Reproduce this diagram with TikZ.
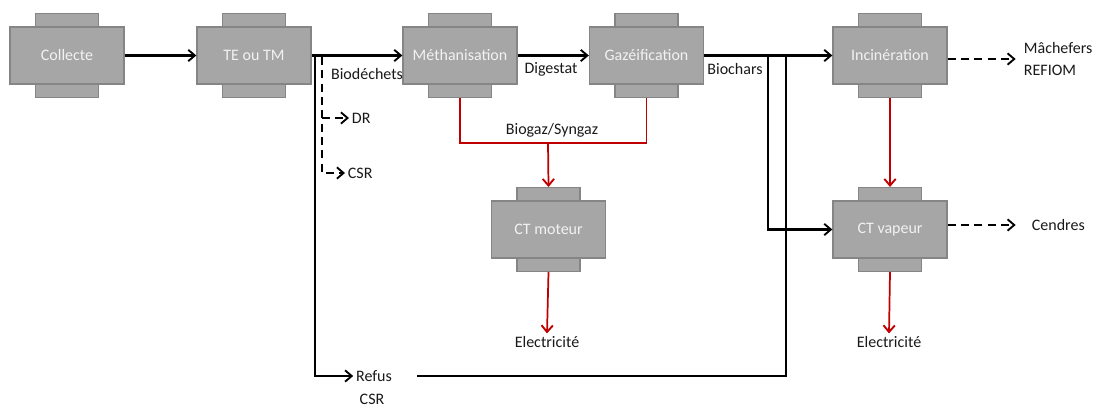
\documentclass[tikz,border=0pt]{standalone}
\usepackage{fontspec}
\setmainfont{Carlito}
\usepackage{xcolor}
\usepackage{tikz}
\usetikzlibrary{arrows.meta,positioning,backgrounds,calc}

\definecolor{boxfill}{HTML}{A6A6A6}
\definecolor{boxline}{HTML}{858585}
\definecolor{boxtext}{HTML}{F2F2F2}
\definecolor{gasred}{HTML}{C00000}

\begin{document}
\begin{tikzpicture}[
    x=0.75pt,y=-0.75pt,
    block/.style={draw=boxline,fill=boxfill,line width=1pt,minimum width=85.5pt,minimum height=42.75pt,inner sep=0pt,
        align=center,text=boxtext,font=\fontsize{12}{14}\selectfont},
    tab/.style={draw=boxline,fill=boxfill,line width=1pt,minimum width=47.25pt,minimum height=12pt,inner sep=0pt},
    lbl/.style={inner sep=2pt,font=\fontsize{12}{16.5}\selectfont,text=black!90},
    >={Straight Barb[length=5pt,width=8.5pt,line width=1.4pt]},
    line/.style={line width=1.6pt},
    flow/.style={line,->},
    dflow/.style={line,->,dash pattern=on 6pt off 4pt},
    rflow/.style={draw=gasred,line width=1.3pt,->},
]
    \useasboundingbox (0,0) rectangle (1094,410);

    % process units
    \node[block] (col) at (67,55.5) {Collecte};
    \node[block] (tri) at (254,55.5) {TE ou TM};
    \node[block] (meth) at (460,55.5) {Méthanisation};
    \node[block] (gaz) at (646.5,55.5) {Gazéification};
    \node[block] (inc) at (890,55.5) {Incinération};
    \node[block] (ctm) at (548.5,229.5) {CT moteur};
    \node[block] (ctv) at (890,229.5) {CT vapeur};

    \begin{scope}[on background layer]
        \foreach \n in {col,tri,meth,gaz,inc,ctm,ctv} {
            \node[tab,anchor=south] (\n-t) at ([yshift=-3pt]\n.north) {};
            \node[tab,anchor=north] (\n-b) at ([yshift=3pt]\n.south) {};
        }
    \end{scope}

    % labels and products
    \node[lbl] (biod) at (367,74) {Biodéchets};
    \node[lbl] (dig) at (551,69) {Digestat};
    \node[lbl] (bioc) at (735,69) {Biochars};
    \node[lbl,anchor=west] (dr) at (349,118) {DR};
    \node[lbl,anchor=west] (csr) at (345,173) {CSR};
    \node[lbl] (refus) at (374,376) {Refus};
    \node[lbl] (refcsr) at (372,399) {CSR};
    \node[lbl] (biogaz) at (552,130) {Biogaz/Syngaz};
    \node[lbl] (elec1) at (547,342) {Electricité};
    \node[lbl] (elec2) at (889,342) {Electricité};
    \node[lbl,anchor=west,align=left] (resid) at (1021,59) {Mâchefers\\REFIOM};
    \node[lbl,anchor=west] (cend) at (1029,225) {Cendres};

    \coordinate (split) at ([xshift=2.25pt]tri.east);
    \coordinate (dv) at (322,57);
    \coordinate (j1) at (768,55.5);
    \coordinate (j2) at (786,55.5);
    \coordinate (gasmid) at (548,143);

    % main flows
    \draw[flow] (col) -- (tri);
    \draw[flow] (tri) -- (meth);
    \draw[flow] (meth) -- (gaz);
    \draw[flow] (gaz) -- (inc);
    \draw[flow] (split) |- (refus.west);
    \draw[line] ([xshift=17pt]refus.east) -| (j2);
    \draw[flow] (j1) |- (ctv);

    % sorted fractions
    \draw[dflow] (dv) |- (csr.west);
    \draw[dflow] (dv |- dr.west) -- (dr.west);
    \draw[dflow] (inc.east |- resid.west) -- ([xshift=-4pt]resid.west);
    \draw[dflow,shorten >=10pt] (ctv.east |- cend.west) -- (cend.west);

    % gas and energy
    \draw[gasred,line width=1.3pt] (meth-b.south) |- (gasmid) -| (gaz-b.south);
    \draw[rflow] (gasmid) -- (ctm-t.north);
    \draw[rflow] (ctm-b.south) -- (elec1.north);
    \draw[rflow] (inc-b.south) -- (ctv-t.north);
    \draw[rflow] (ctv-b.south) -- (elec2.north);
\end{tikzpicture}
\end{document}
